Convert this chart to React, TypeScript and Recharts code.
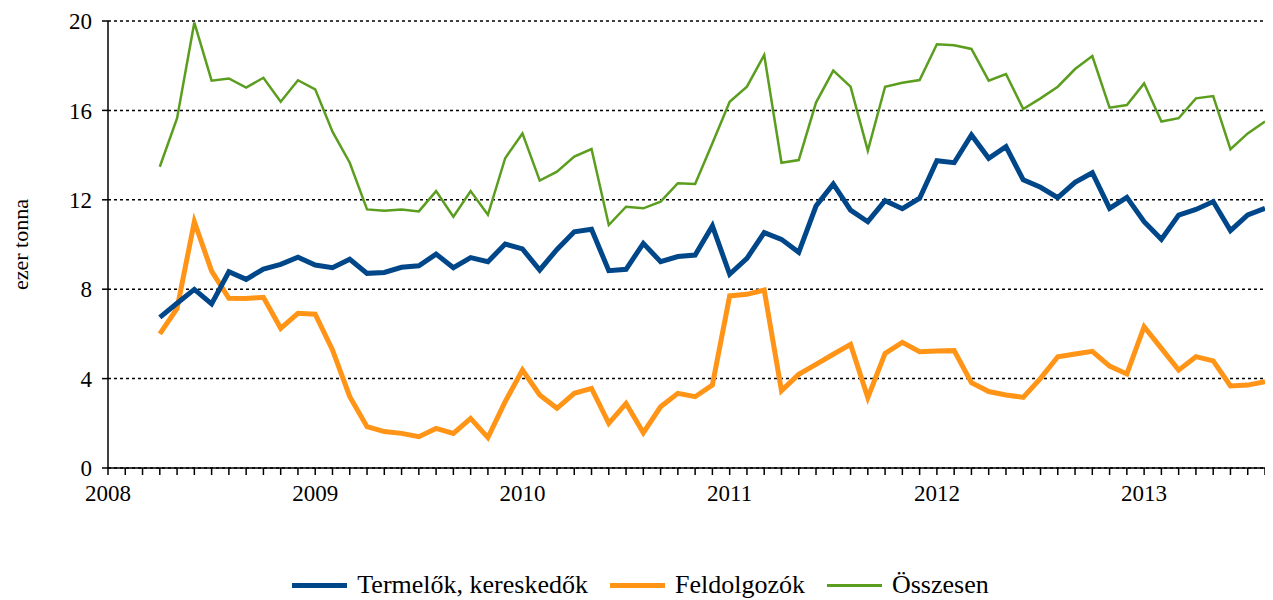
import React from 'react';
import { LineChart, Line, XAxis, YAxis, CartesianGrid } from 'recharts';

// havi adatok: 2008. április – 2013. augusztus
const firstMonthIndex = 3; // 2008 január = 0
const yearLabels = ['2008', '2009', '2010', '2011', '2012', '2013'];
const yTicks = [0, 4, 8, 12, 16, 20];

const termelok = [
  6.74, 7.37, 7.99, 7.34, 8.78, 8.44, 8.9, 9.11, 9.43, 9.08,
  8.96, 9.34, 8.71, 8.75, 8.98, 9.05, 9.57, 8.96, 9.41, 9.23,
  10.02, 9.8, 8.86, 9.78, 10.57, 10.68, 8.83, 8.89, 10.05, 9.23,
  9.46, 9.53, 10.83, 8.67, 9.38, 10.53, 10.23, 9.65, 11.72, 12.71,
  11.54, 11.02, 11.96, 11.6, 12.07, 13.75, 13.66, 14.9, 13.86, 14.38,
  12.89, 12.56, 12.1, 12.78, 13.21, 11.62, 12.11, 11.02, 10.23, 11.32,
  11.57, 11.92, 10.62, 11.32, 11.62,
];

const feldolgozok = [
  6.0, 7.14, 11.02, 8.81, 7.59, 7.58, 7.64, 6.25, 6.92, 6.88,
  5.28, 3.19, 1.85, 1.63, 1.55, 1.4, 1.77, 1.55, 2.22, 1.36,
  2.97, 4.38, 3.27, 2.67, 3.34, 3.56, 2.0, 2.89, 1.58, 2.74,
  3.34, 3.19, 3.71, 7.7, 7.77, 7.96, 3.46, 4.19, 4.64, 5.09,
  5.53, 3.15, 5.13, 5.62, 5.2, 5.23, 5.25, 3.82, 3.42, 3.27,
  3.16, 4.01, 4.98, 5.1, 5.22, 4.56, 4.21, 6.32, 5.35, 4.38,
  4.98, 4.79, 3.67, 3.71, 3.86,
];

const osszesen = [
  13.48, 15.65, 19.93, 17.33, 17.43, 17.02, 17.46, 16.39, 17.35, 16.94,
  15.05, 13.66, 11.57, 11.51, 11.57, 11.48, 12.39, 11.24, 12.39, 11.33,
  13.86, 14.97, 12.86, 13.26, 13.93, 14.27, 10.87, 11.69, 11.62, 11.92,
  12.74, 12.71, 14.53, 16.39, 17.06, 18.48, 13.66, 13.78, 16.35, 17.78,
  17.06, 14.2, 17.06, 17.24, 17.36, 18.96, 18.91, 18.75, 17.33, 17.63,
  16.06, 16.54, 17.06, 17.85, 18.43, 16.12, 16.24, 17.21, 15.5, 15.65,
  16.54, 16.64, 14.26, 14.97, 15.5,
];

const COLORS = {
  termelok: '#00478A',
  feldolgozok: '#FF9416',
  osszesen: '#5B9E1F',
};

const FONT = '"Liberation Serif", "Times New Roman", serif';
const TICK_SIZE = 23;
const LEGEND_SIZE = 26;

const chartData = termelok.map((v, i) => ({
  month: firstMonthIndex + i,
  termelok: v,
  feldolgozok: feldolgozok[i],
  osszesen: osszesen[i],
}));

const monthTicks = Array.from({ length: 68 }, (_, i) => i);

const YearTick = (props: any) => {
  const { x, y, payload } = props;
  if (payload.value % 12 !== 0) return null;
  const label = yearLabels[payload.value / 12];
  return (
    <text x={x} y={y} dy="0.71em" textAnchor="middle" fill="#000" fontFamily={FONT} fontSize={TICK_SIZE}>
      {label}
    </text>
  );
};

const legendItems = [
  { name: 'Termelők, kereskedők', color: COLORS.termelok, width: 5 },
  { name: 'Feldolgozók', color: COLORS.feldolgozok, width: 5 },
  { name: 'Összesen', color: COLORS.osszesen, width: 3 },
];

export default function App() {
  return (
    <div style={{ position: 'relative', width: 1265, height: 592 }}>
      <LineChart
        width={1265}
        height={592}
        data={chartData}
        margin={{ top: 13, right: 8, left: 0, bottom: 92 }}
      >
        <CartesianGrid vertical={false} stroke="#000" strokeWidth={1.5} strokeDasharray="3 3" />
        <XAxis
          dataKey="month"
          type="number"
          domain={[0, 67]}
          ticks={monthTicks}
          interval={0}
          height={40}
          tick={<YearTick />}
          tickSize={7}
          tickMargin={10}
          axisLine={{ stroke: '#000', strokeWidth: 1.5 }}
          tickLine={{ stroke: '#000', strokeWidth: 1.5 }}
        />
        <YAxis
          domain={[0, 20]}
          ticks={yTicks}
          width={100}
          tickSize={6}
          tickMargin={10}
          axisLine={{ stroke: '#000', strokeWidth: 1.5 }}
          tickLine={{ stroke: '#000', strokeWidth: 1.5 }}
          tick={{ fill: '#000', fontFamily: FONT, fontSize: TICK_SIZE }}
          label={{
            value: 'ezer tonna',
            angle: -90,
            position: 'insideLeft',
            offset: 12,
            style: { fill: '#000', fontFamily: FONT, fontSize: 22, textAnchor: 'middle' },
          }}
        />
        <Line type="linear" dataKey="feldolgozok" stroke={COLORS.feldolgozok} strokeWidth={5} dot={false} isAnimationActive={false} />
        <Line type="linear" dataKey="termelok" stroke={COLORS.termelok} strokeWidth={5} dot={false} isAnimationActive={false} />
        <Line type="linear" dataKey="osszesen" stroke={COLORS.osszesen} strokeWidth={2.5} dot={false} isAnimationActive={false} />
      </LineChart>
      <div
        style={{
          position: 'absolute',
          left: 0,
          width: 1265,
          top: 561,
          height: 32,
          display: 'flex',
          justifyContent: 'center',
          alignItems: 'center',
          gap: 22,
          fontFamily: FONT,
          fontSize: LEGEND_SIZE,
          color: '#000',
        }}
      >
        {legendItems.map((item) => (
          <div key={item.name} style={{ display: 'flex', alignItems: 'center' }}>
            <span style={{ display: 'inline-block', width: 55, height: item.width, background: item.color, marginRight: 10 }} />
            <span>{item.name}</span>
          </div>
        ))}
      </div>
    </div>
  );
}
